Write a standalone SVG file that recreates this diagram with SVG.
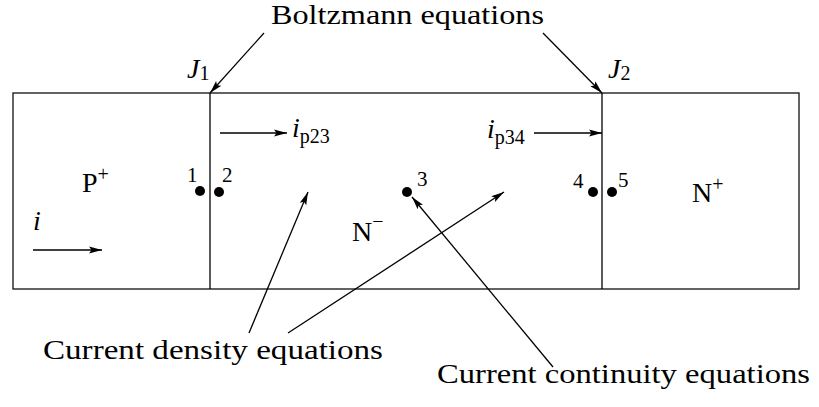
<svg xmlns="http://www.w3.org/2000/svg" width="819" height="407" viewBox="0 0 819 407">
<style>
.t{font-family:"Liberation Serif","DejaVu Serif",serif;fill:#000}
.big{font-size:28px}
.num{font-size:21px}
.it{font-style:italic}
.sub{font-size:20px;font-style:normal}
.ln{stroke:#000;stroke-width:1.3;fill:none}
.box{stroke:#222;stroke-width:1.4;fill:#fff}
.arr{stroke:#000;stroke-width:1.3;fill:none;marker-end:url(#ah)}
.dot{fill:#000}
</style>
<defs>
<marker id="ah" markerUnits="userSpaceOnUse" markerWidth="15" markerHeight="9" refX="13" refY="4" orient="auto" overflow="visible">
<path d="M0,0.5 L13,4 L0,7.5 L2.5,4 z" fill="#000"/>
</marker>
</defs>
<rect width="819" height="407" fill="#fff"/>
<g id="device">
<rect class="box" x="13" y="93" width="786" height="196"/>
</g>
<g id="junction-J1">
<line class="ln" x1="210" y1="93" x2="210" y2="289"/>
<text class="t big it" x="187" y="78">J<tspan class="sub" dy="2">1</tspan></text>
</g>
<g id="junction-J2">
<line class="ln" x1="602" y1="93" x2="602" y2="289"/>
<text class="t big it" x="608" y="78">J<tspan class="sub" dy="2">2</tspan></text>
</g>
<g id="region-P">
<text class="t big" x="82" y="192">P<tspan font-size="20" dy="-11">+</tspan></text>
<text class="t big it" x="33" y="230">i</text>
</g>
<g id="region-Nminus">
<text class="t big" x="352" y="241">N<tspan font-size="20" dy="-13">−</tspan></text>
</g>
<g id="region-N">
<text class="t big" x="692" y="202">N<tspan font-size="20" dy="-11">+</tspan></text>
</g>
<g id="point-1"><circle class="dot" cx="200" cy="191" r="5"/><text class="t num" x="187" y="182">1</text></g>
<g id="point-2"><circle class="dot" cx="219" cy="192" r="5"/><text class="t num" x="222" y="182">2</text></g>
<g id="point-3"><circle class="dot" cx="407" cy="192" r="5"/><text class="t num" x="417" y="186">3</text></g>
<g id="point-4"><circle class="dot" cx="593" cy="192" r="5"/><text class="t num" x="573" y="188">4</text></g>
<g id="point-5"><circle class="dot" cx="612" cy="192" r="5"/><text class="t num" x="618" y="187">5</text></g>
<g id="current-ip23"><text class="t big it" x="292" y="137">i<tspan class="sub" dy="6">p23</tspan></text></g>
<g id="current-ip34"><text class="t big it" x="487" y="138">i<tspan class="sub" dy="6">p34</tspan></text></g>
<g id="label-boltzmann"><text class="t big" x="271" y="24" textLength="273" lengthAdjust="spacingAndGlyphs">Boltzmann equations</text></g>
<g id="label-density"><text class="t big" x="43" y="359" textLength="340" lengthAdjust="spacingAndGlyphs">Current density equations</text></g>
<g id="label-continuity"><text class="t big" x="437" y="383" textLength="373" lengthAdjust="spacingAndGlyphs">Current continuity equations</text></g>
<g id="connectors">
<line class="arr" x1="264" y1="33" x2="210" y2="93"/>
<line class="arr" x1="543" y1="33" x2="602" y2="93"/>
<line class="arr" x1="220" y1="133" x2="287" y2="133"/>
<line class="arr" x1="534" y1="133" x2="602" y2="133"/>
<line class="arr" x1="33" y1="250" x2="102" y2="250"/>
<line class="arr" x1="249" y1="333" x2="308" y2="192"/>
<line class="arr" x1="288" y1="333" x2="504" y2="192"/>
<line class="arr" x1="553" y1="367" x2="412" y2="197"/>
</g>
</svg>
